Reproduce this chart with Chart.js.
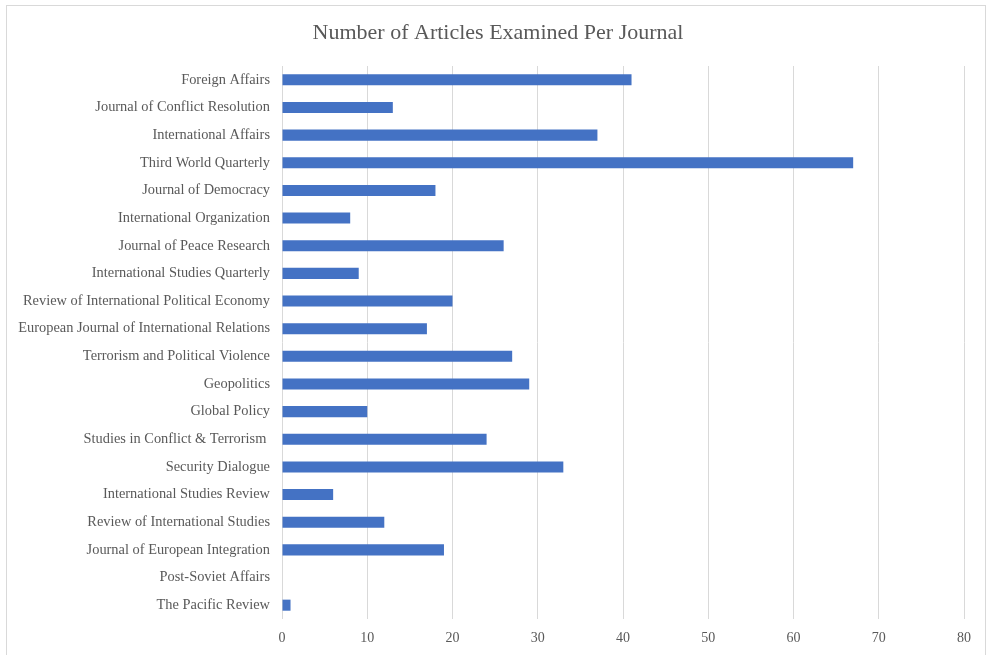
<!DOCTYPE html>
<html>
<head>
<meta charset="utf-8">
<script src="https://cdn.jsdelivr.net/npm/chart.js@4.4.1/dist/chart.umd.min.js"></script>
<style>
  body { margin: 0; background: #fff; overflow: hidden; }
  #wrap { position: absolute; left: 0; top: 0; width: 988px; height: 655px; }
  #frame { position: absolute; left: 6px; top: 5px; width: 978px; height: 670px; border: 1px solid #d9d9d9; }
</style>
</head>
<body>
<div id="frame"></div>
<div id="wrap"><canvas id="chart" width="988" height="655"></canvas></div>
<script>
const journals = [
  "Foreign Affairs",
  "Journal of Conflict Resolution",
  "International Affairs",
  "Third World Quarterly",
  "Journal of Democracy",
  "International Organization",
  "Journal of Peace Research",
  "International Studies Quarterly",
  "Review of International Political Economy",
  "European Journal of International Relations",
  "Terrorism and Political Violence",
  "Geopolitics",
  "Global Policy",
  "Studies in Conflict & Terrorism ",
  "Security Dialogue",
  "International Studies Review",
  "Review of International Studies",
  "Journal of European Integration",
  "Post-Soviet Affairs",
  "The Pacific Review"
];
const articleCounts = [41, 13, 37, 67, 18, 8, 26, 9, 20, 17, 27, 29, 10, 24, 33, 6, 12, 19, 0, 1];
const xTicks = [0, 10, 20, 30, 40, 50, 60, 70, 80];
const chartTitle = "Number of Articles Examined Per Journal";

const textColor = "#595959";
const serif = "'Liberation Serif', 'Times New Roman', serif";

const chart = document.getElementById("chart");

// title drawn centred on the whole frame, like the original
const titlePlugin = {
  id: "frameTitle",
  afterDraw: (c) => {
    const ctx = c.ctx;
    ctx.save();
    ctx.font = "22px " + serif;
    ctx.fillStyle = textColor;
    ctx.textAlign = "center";
    ctx.textBaseline = "middle";
    ctx.fillText(chartTitle, 498, 33);
    ctx.restore();
  },
};

// Chart config
const config = {
  type: "bar",
  data: {
    labels: journals,
    datasets: [
      {
        label: "Articles",
        data: articleCounts,
        backgroundColor: "#4472C4",
        categoryPercentage: 0.8,
        barPercentage: 0.5,
      },
    ],
  },
  options: {
    indexAxis: "y",
    responsive: false,
    animation: false,
    layout: { padding: { left: 0, right: 24, top: 66, bottom: 0 } },
    plugins: {
      legend: { display: false },
      tooltip: { enabled: false },
      title: { display: false },
    },
    scales: {
      x: {
        min: 0,
        max: 80,
        afterBuildTicks: (scale) => {
          scale.ticks = xTicks.map((v) => ({ value: v }));
        },
        afterFit: (scale) => {
          scale.height = 36;
        },
        border: { display: false },
        grid: { color: "#d9d9d9", drawTicks: false },
        ticks: {
          color: textColor,
          padding: 11,
          font: { family: serif, size: 14 },
        },
      },
      y: {
        afterFit: (scale) => {
          scale.width = 282;
        },
        border: { display: false },
        grid: { display: false, drawTicks: false },
        ticks: {
          color: textColor,
          padding: 12,
          autoSkip: false,
          font: { family: serif, size: 14.4 },
        },
      },
    },
  },
  plugins: [titlePlugin],
};

new Chart(chart, config);
</script>
</body>
</html>
